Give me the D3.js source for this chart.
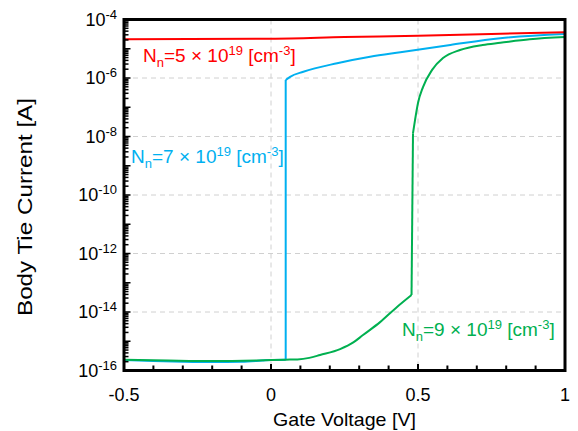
<!DOCTYPE html>
<html>
<head>
<meta charset="utf-8">
<script src="https://cdn.jsdelivr.net/npm/d3@7"></script>
<style>
  body { margin: 0; background: #fff; }
  text { font-family: "Liberation Sans", Arial, sans-serif; }
</style>
</head>
<body>
<svg width="578" height="431"></svg>
<script>
// curves: gate voltage [V] and body tie current [A]
const redV = [-0.5, 0, 0.25, 0.5, 0.75, 1.0];
const redI = [2.1e-5, 2.2e-5, 2.5e-5, 2.8e-5, 3.2e-5, 3.7e-5];

const blueV = [-0.5, -0.4, -0.3, -0.2, -0.1, -0.03, 0, 0.05, 0.05, 0.065, 0.11, 0.225, 0.337, 0.44, 0.61, 0.78, 1.0];
const blueI = [2.3e-16, 2.1e-16, 2.0e-16, 1.95e-16, 2.0e-16, 2.2e-16, 2.3e-16, 2.35e-16, 8.5e-7, 1.1e-6, 1.64e-6, 3.2e-6, 5.3e-6, 7.6e-6, 1.35e-5, 2.3e-5, 3.2e-5];

const greenV = [-0.5, -0.35, -0.2, -0.05, 0.05, 0.09, 0.13, 0.167, 0.235, 0.28, 0.313, 0.371, 0.425, 0.478, 0.483, 0.49, 0.5, 0.517, 0.548, 0.585, 0.643, 0.72, 0.78, 0.88, 1.0];
const greenI = [2.35e-16, 2.2e-16, 2.1e-16, 2.2e-16, 2.35e-16, 2.4e-16, 2.7e-16, 3.4e-16, 5.4e-16, 9.1e-16, 1.63e-15, 4.5e-15, 1.38e-14, 3.8e-14, 1.3e-8, 3.7e-8, 1.4e-7, 4.9e-7, 1.9e-6, 4.8e-6, 9.1e-6, 1.35e-5, 1.6e-5, 2.1e-5, 2.5e-5];

// axis ticks
const xTicks = [-0.5, 0, 0.5, 1];
const xTickLabels = ["-0.5", "0", "0.5", "1"];
const yTickExps = [-4, -6, -8, -10, -12, -14, -16];

const svg = d3.select("svg");
const margin = { top: 19.5, right: 13, bottom: 60.5, left: 124 };
const width = +svg.attr("width");
const height = +svg.attr("height");
const innerWidth = width - margin.left - margin.right;
const innerHeight = height - margin.top - margin.bottom;

// scales in page coordinates
const xScale = d3.scaleLinear().domain([-0.5, 1]).range([margin.left, margin.left + innerWidth]);
const yScale = d3.scaleLog().domain([1e-16, 1e-4]).range([margin.top + innerHeight, margin.top]);

const g = svg.append("g");

// dashed grid
const gridColor = "#d0d0d0";
g.selectAll(".gx")
    .data([0, 0.5])
    .enter()
    .append("line")
    .attr("x1", d => xScale(d)).attr("x2", d => xScale(d))
    .attr("y1", margin.top).attr("y2", margin.top + innerHeight)
    .attr("stroke", gridColor).attr("stroke-width", 1)
    .attr("stroke-dasharray", "5,4");

g.selectAll(".gy")
    .data([-6, -8, -10, -12, -14])
    .enter()
    .append("line")
    .attr("x1", margin.left).attr("x2", margin.left + innerWidth)
    .attr("y1", d => yScale(Math.pow(10, d))).attr("y2", d => yScale(Math.pow(10, d)))
    .attr("stroke", gridColor).attr("stroke-width", 1)
    .attr("stroke-dasharray", "5,4");

// curves: smooth pieces, the big jumps stay straight
const smooth = d3.line().x(d => xScale(d[0])).y(d => yScale(d[1])).curve(d3.curveMonotoneX);
const straight = d3.line().x(d => xScale(d[0])).y(d => yScale(d[1]));

function drawCurve(vs, is, color) {
    const pts = vs.map((v, k) => [v, is[k]]);
    let piece = [pts[0]];
    const draw = (data, gen) => g.append("path")
        .datum(data)
        .attr("d", gen)
        .attr("fill", "none")
        .attr("stroke", color)
        .attr("stroke-width", 2)
        .attr("stroke-linejoin", "round");
    for (let k = 1; k < pts.length; k++) {
        const jump = Math.abs(Math.log10(pts[k][1]) - Math.log10(pts[k - 1][1])) > 3;
        if (jump) {
            draw(piece, smooth);
            draw([pts[k - 1], pts[k]], straight);
            piece = [pts[k]];
        } else {
            piece.push(pts[k]);
        }
    }
    draw(piece, smooth);
}

drawCurve(blueV, blueI, "#00b0f0");
drawCurve(greenV, greenI, "#00b050");
drawCurve(redV, redI, "#ff0000");

// frame
g.append("rect")
    .attr("x", margin.left).attr("y", margin.top)
    .attr("width", innerWidth).attr("height", innerHeight)
    .attr("fill", "none").attr("stroke", "#000").attr("stroke-width", 3);

// inward ticks on the bottom, every 0.1 V
const bottom = margin.top + innerHeight;
const xMinor = d3.range(-4, 10).map(k => k / 10);
g.selectAll(".xt")
    .data(xMinor)
    .enter()
    .append("line")
    .attr("x1", d => xScale(d)).attr("x2", d => xScale(d))
    .attr("y1", bottom).attr("y2", d => bottom - (Math.abs(d * 2 - Math.round(d * 2)) < 1e-9 ? 6.5 : 5))
    .attr("stroke", "#000").attr("stroke-width", 2);

// inward log ticks on the left
const yMinor = [];
for (let e = -16; e < -4; e++) {
    for (let m = 1; m < 10; m++) yMinor.push({ v: m * Math.pow(10, e), major: m === 1 });
}
g.selectAll(".yt")
    .data(yMinor)
    .enter()
    .append("line")
    .attr("x1", margin.left).attr("x2", d => margin.left + (d.major ? 6.5 : 4.5))
    .attr("y1", d => yScale(d.v)).attr("y2", d => yScale(d.v))
    .attr("stroke", "#000").attr("stroke-width", 1.5);

// text built from pieces (sub/superscripts as own text elements), placed in page coordinates
function richText(x0, y0, pieces, color, alignEnd) {
    const made = pieces.map(p => svg.append("text")
        .attr("font-size", p.size)
        .attr("fill", color)
        .style("white-space", "pre")
        .text(p.t));
    const widths = made.map(t => t.node().getComputedTextLength());
    let x = alignEnd ? x0 - d3.sum(widths) : x0;
    made.forEach((t, k) => {
        t.attr("x", x).attr("y", y0 + (pieces[k].dy || 0));
        x += widths[k];
    });
}

// tick labels
svg.selectAll(".xl")
    .data(xTicks)
    .enter()
    .append("text")
    .attr("x", d => xScale(d))
    .attr("y", bottom + 30)
    .attr("text-anchor", "middle")
    .attr("font-size", 18)
    .text((d, i) => xTickLabels[i]);

yTickExps.forEach(e => {
    richText(margin.left - 7, yScale(Math.pow(10, e)) + 6,
        [{ t: "10", size: 18 }, { t: String(e), size: 13, dy: -7 }], "#000", true);
});

// axis titles
svg.append("text")
    .attr("x", margin.left + innerWidth / 2)
    .attr("y", 426)
    .attr("text-anchor", "middle")
    .attr("font-size", 19)
    .attr("textLength", 143)
    .attr("lengthAdjust", "spacingAndGlyphs")
    .text("Gate Voltage [V]");

svg.append("text")
    .attr("transform", "translate(32,207) rotate(-90)")
    .attr("text-anchor", "middle")
    .attr("font-size", 21)
    .attr("textLength", 218)
    .attr("lengthAdjust", "spacingAndGlyphs")
    .text("Body Tie Current [A]");

// curve labels
function label(x, y, num, color) {
    richText(x, y, [
        { t: "N", size: 19 },
        { t: "n", size: 13, dy: 5 },
        { t: "=" + num + " ", size: 19 },
        { t: "×", size: 19 },
        { t: " 10", size: 19 },
        { t: "19", size: 13, dy: -7 },
        { t: " [cm", size: 19 },
        { t: "-3", size: 13, dy: -7 },
        { t: "]", size: 19 }
    ], color, false);
}

label(143, 62, 5, "#ff0000");
label(131, 163, 7, "#00b0f0");
label(402, 336, 9, "#00b050");
</script>
</body>
</html>
